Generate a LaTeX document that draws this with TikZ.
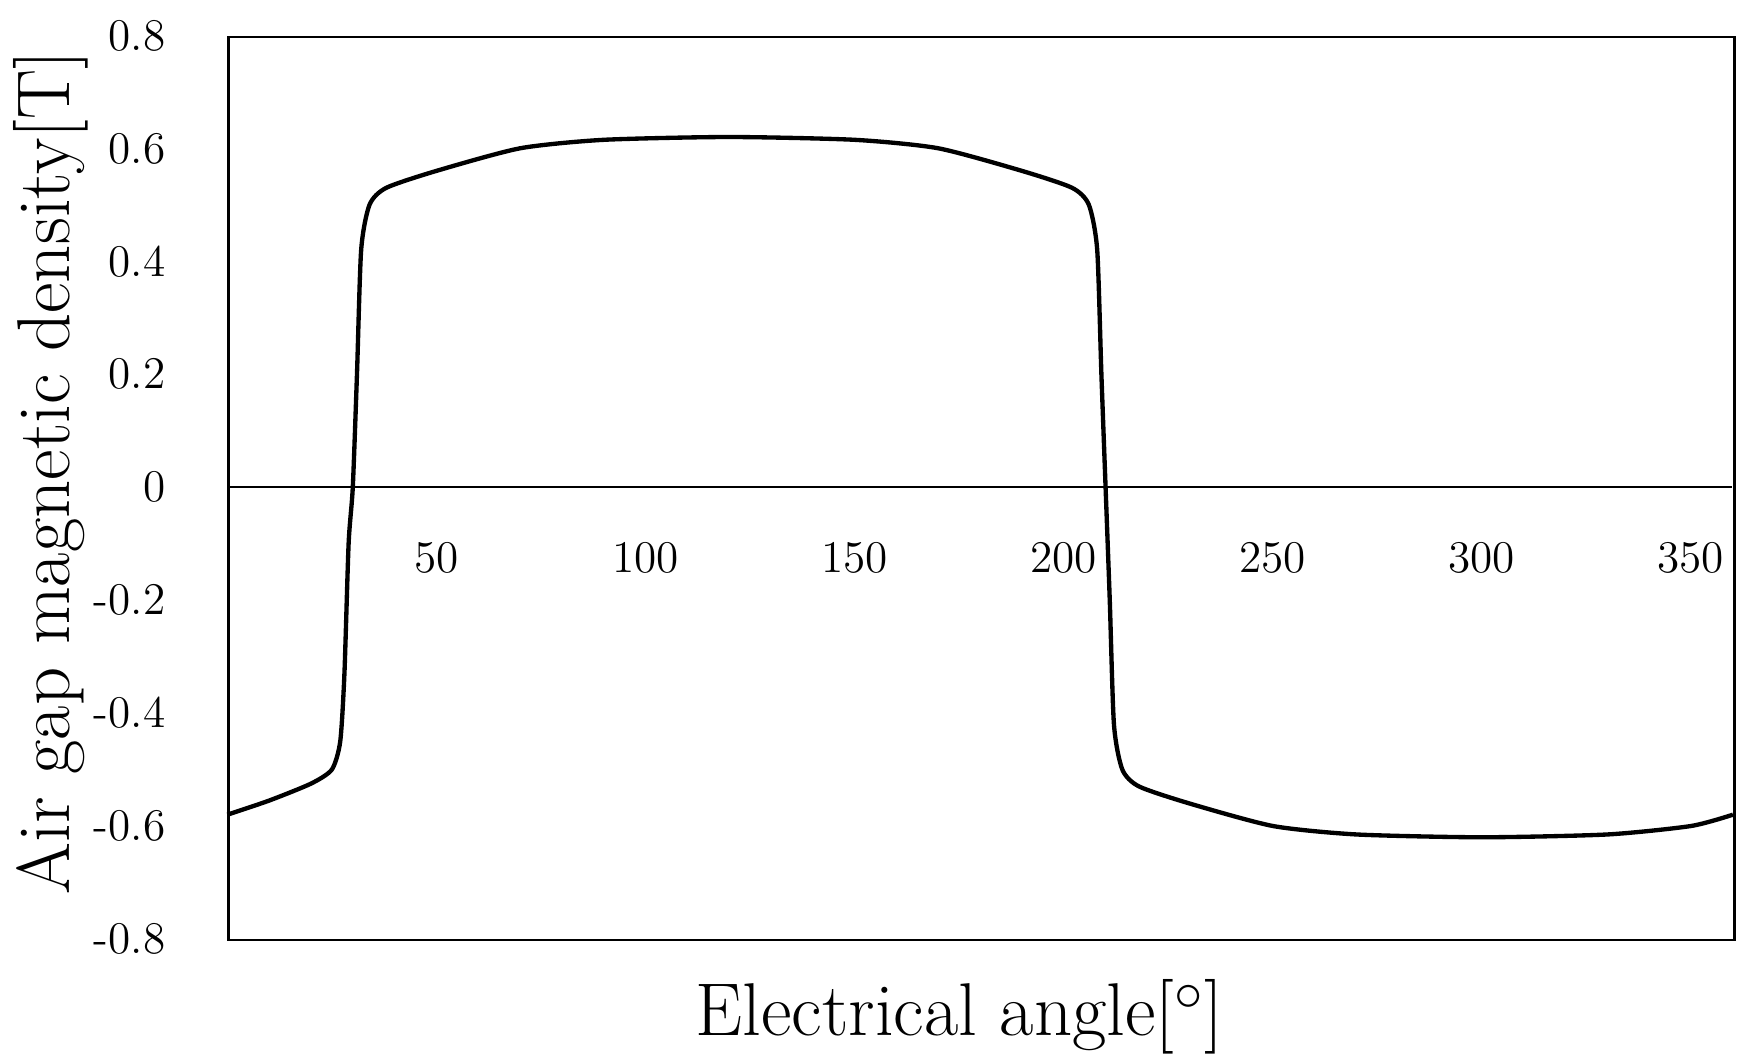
\documentclass[tikz,border=0pt]{standalone}
\begin{document}
\begin{tikzpicture}[x=0.01cm,y=-0.01cm,
  tick/.style={font=\fontsize{11.5}{13}\selectfont},
  ttl/.style={font=\fontsize{19}{22}\selectfont}]
\useasboundingbox (0,0) rectangle (1560,949);
\node[draw,line width=0.6pt,minimum width=13.44cm,minimum height=8.06cm,inner sep=0,anchor=north west] (frame) at (203,32) {};
\draw[line width=0.5pt] (203,435) -- (1547,435);
\foreach \v/\t in {0/0.8,1/0.6,2/0.4,3/0.2,4/0,5/-0.2,6/-0.4,7/-0.6,8/-0.8}
  \node[tick,anchor=east] (y\v) at (160,{32+100.75*\v}) {\t};
\foreach \v in {50,100,150,200,250,300,350}
  \node[tick] (x\v) at ({203+3.733*\v},498) {\v};
\node[ttl,rotate=90] (yl) at (45,422) {Air gap magnetic density[T]};
\node[ttl] (xl) at (857,908) {Electrical angle[$^\circ$]};
\begin{scope}[shift={(203,435)},x=0.03733cm,y=5.04cm]
\draw[line width=1.1pt,line join=round] plot[smooth,tension=0.4] coordinates {
(0,-0.58) (10,-0.555) (20,-0.525) (25,-0.50) (27,-0.45) (28,-0.33) (29,-0.1) (30,0) (31,0.2) (32,0.42) (34,0.5) (38,0.53) (50,0.56) (70,0.6) (90,0.615) (120,0.62) (150,0.615) (170,0.6) (190,0.56) (202,0.53) (206,0.5) (208,0.42) (209,0.2) (210,0) (211,-0.2) (212,-0.42) (214,-0.5) (218,-0.53) (230,-0.56) (250,-0.6) (270,-0.615) (300,-0.62) (330,-0.615) (350,-0.6) (360,-0.58)};
\end{scope}
\end{tikzpicture}
\end{document}
